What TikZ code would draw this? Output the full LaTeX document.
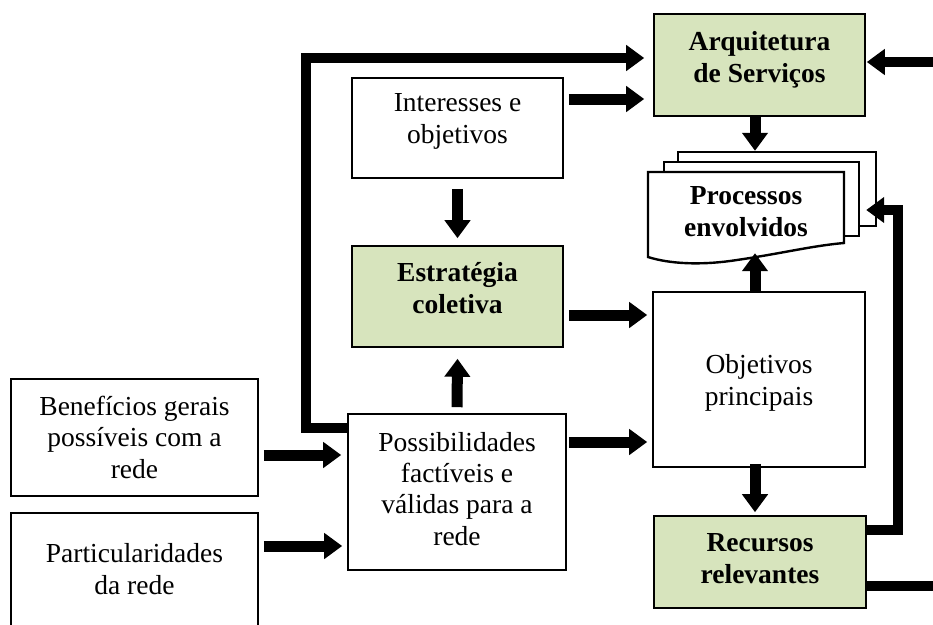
\documentclass[tikz,border=0pt]{standalone}
\usepackage{fontspec}
\setmainfont{Liberation Serif}
\usetikzlibrary{arrows.meta,calc}
\definecolor{boxgreen}{HTML}{D7E4BD}
\begin{document}
\begin{tikzpicture}[x=1pt,y=-1pt,
  box/.style={draw=black, line width=1.6pt, fill=white, rectangle, inner sep=0pt},
  greenbox/.style={box, fill=boxgreen},
  boxtext/.style={anchor=base, align=center, inner sep=0pt, font=\fontsize{27.5}{31.3}\selectfont},
  boldtext/.style={boxtext, font=\fontsize{27.5}{31.3}\selectfont\bfseries},
  bigarrow/.style={line width=11pt, -{Triangle[width=25pt,length=18pt]}},
  loopline/.style={line width=9.5pt, -{Triangle[width=25pt,length=18pt]}},
  sheet/.style={draw=black, line width=2.4pt, fill=white}
]
\useasboundingbox (0,0) rectangle (933,624);
\clip (0,0) rectangle (933,624);

% boxes
\node[greenbox, minimum width=211pt, minimum height=102pt] (arq) at (759.5,65) {};
\node[box, minimum width=211pt, minimum height=100pt] (int) at (457.5,128) {};
\node[greenbox, minimum width=211pt, minimum height=101pt] (est) at (457.5,296.5) {};
\node[box, minimum width=218pt, minimum height=156pt] (pos) at (457,492) {};
\node[box, minimum width=212pt, minimum height=175pt] (obj) at (759,379.5) {};
\node[greenbox, minimum width=212pt, minimum height=92pt] (rec) at (760,562) {};
\node[box, minimum width=247pt, minimum height=117pt] (ben) at (134.5,437.5) {};
\node[box, minimum width=247pt, minimum height=119pt] (par) at (134.5,572.5) {};

% stacked documents
\node[sheet, rectangle, inner sep=0pt, minimum width=198pt, minimum height=74pt] (procC) at (777,189) {};
\node[sheet, rectangle, inner sep=0pt, minimum width=195pt, minimum height=74pt] (procB) at (761.5,199) {};
\path[sheet] (648,172) -- (844,172) -- (844,243)
  .. controls (810,246) and (780,254) .. (730,261)
  .. controls (700,265) and (670,264) .. (648,257) -- cycle;
\node[rectangle, inner sep=0pt, minimum width=196pt, minimum height=85pt] (proc) at (746,214.5) {};

% texts (anchored on the baseline of the last line)
\node[boldtext] (arqT) at (759.5,82) {Arquitetura\\de Serviços};
\node[boxtext] (intT) at (457.5,143) {Interesses e\\objetivos};
\node[boldtext] (estT) at (457.5,313) {Estratégia\\coletiva};
\node[boldtext] (procT) at (746,236) {Processos\\envolvidos};
\node[boxtext] (objT) at (759,405) {Objetivos\\principais};
\node[boldtext] (recT) at (760,583) {Recursos\\relevantes};
\node[boxtext] (posT) at (457,545) {Possibilidades\\factíveis e\\válidas para a\\rede};
\node[boxtext] (benT) at (134.5,478) {Benefícios gerais\\possíveis com a\\rede};
\node[boxtext] (parT) at (134.5,594) {Particularidades\\da rede};

% loop routing points
\coordinate (loopL) at (306,58);
\coordinate (loopR) at (898,210);
\coordinate (loopO) at (940,62);

% connectors
\draw[loopline] ($(pos.west)+(1,-64)$) -| (loopL) -- ($(arq.west)+(-9,-7)$);
\draw[bigarrow] ($(int.east)+(5,-29)$) -- ($(arq.west)+(-9,34)$);
\draw[bigarrow] ($(int.south)+(0,10)$) -- ($(est.north)+(0,-7)$);
\draw[bigarrow] ($(pos.north)+(0,-6)$) -- ($(est.south)+(0,11)$);
\draw[bigarrow] ($(est.east)+(5,18.5)$) -- ($(obj.west)+(-5,-64.5)$);
\draw[bigarrow] ($(pos.east)+(2,-50)$) -- ($(obj.west)+(-5,62.5)$);
\draw[bigarrow] ($(ben.east)+(5,17.5)$) -- ($(pos.west)+(-6,-37)$);
\draw[bigarrow] ($(par.east)+(5,-26.5)$) -- ($(pos.west)+(-5,54)$);
\draw[bigarrow] ($(arq.south)+(-4.5,0)$) -- ($(procC.north)+(-22,0)$);
\draw[bigarrow] ($(obj.north)+(-4,0)$) -- ($(proc.south)+(9,-4)$);
\draw[bigarrow] ($(obj.south)+(-4,-4)$) -- ($(rec.north)+(-5,-3)$);
\draw[loopline] ($(rec.east)+(0,-32)$) -| (loopR) -- ($(procC.east)+(-11,21)$);
\draw[loopline] ($(rec.east)+(0,24)$) -| (loopO) -- ($(arq.east)+(1,-3)$);
\end{tikzpicture}
\end{document}
